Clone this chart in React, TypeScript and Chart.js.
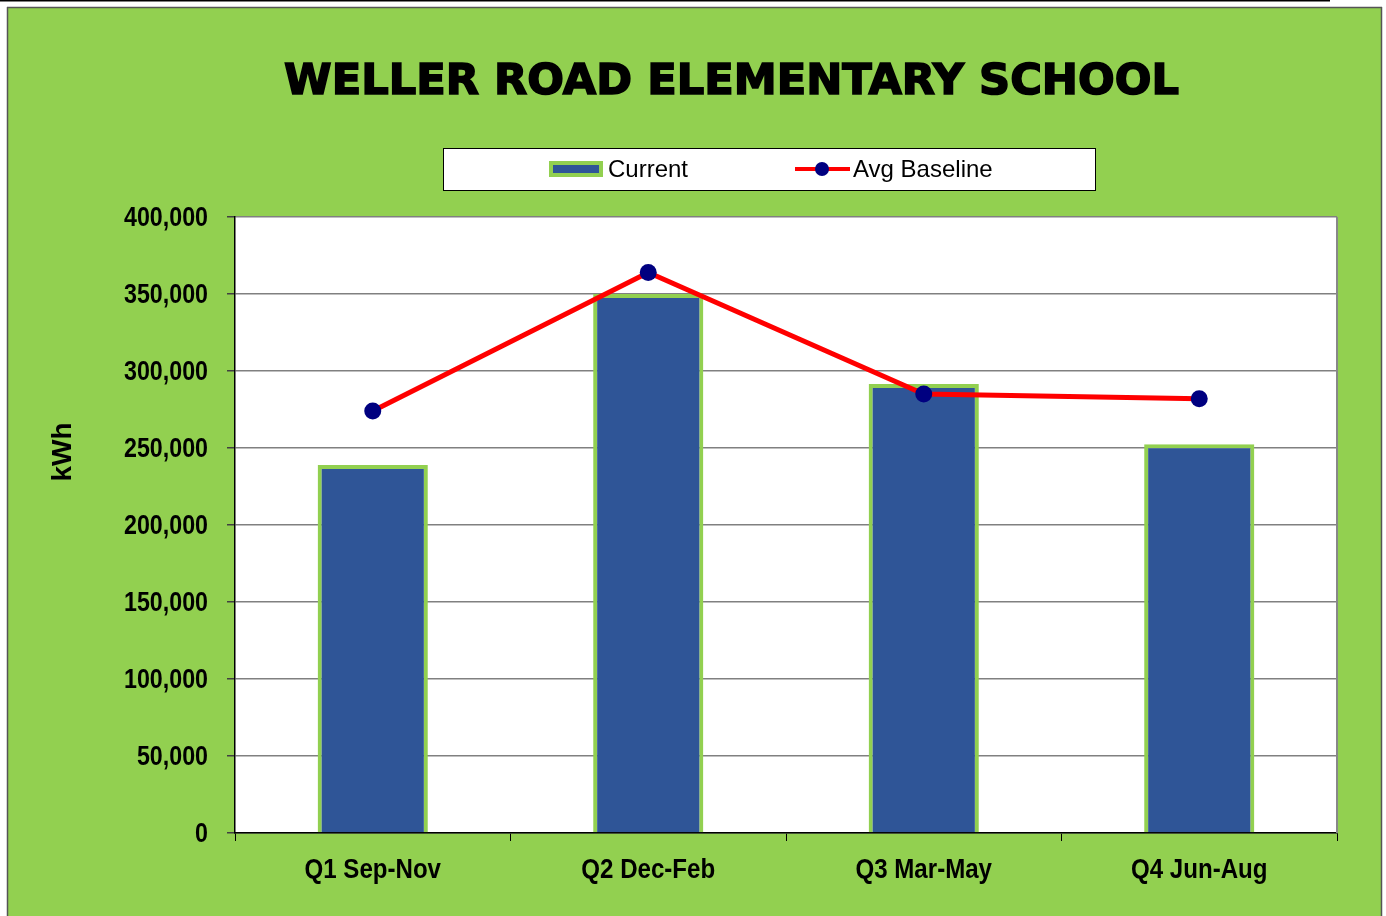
import React, { useEffect, useRef } from "react";
import { Chart, registerables } from "chart.js";

Chart.register(...registerables);

const chartTitle = "WELLER ROAD ELEMENTARY SCHOOL";
const categories = ["Q1 Sep-Nov", "Q2 Dec-Feb", "Q3 Mar-May", "Q4 Jun-Aug"];
const currentValues = [239000, 350000, 291500, 252500];
const baselineValues = [274000, 364000, 285000, 282000];
const seriesNames = ["Current", "Avg Baseline"];
const yAxisTitle = "kWh";
const yMin = 0;
const yMax = 400000;
const yStep = 50000;

const GREEN = "#92D050";
const BLUE = "#2F5597";
const RED = "#FF0000";
const NAVY = "#000080";
const BOLD_FONT = 'bold 28px "Liberation Sans", Arial, sans-serif';

function drawCondensed(ctx: any, text: string, x: number, y: number, align: string, sx: number, rot = 0) {
  ctx.save();
  ctx.translate(x, y);
  if (rot) ctx.rotate(rot);
  ctx.scale(sx, 1);
  ctx.font = BOLD_FONT;
  ctx.fillStyle = "#000000";
  ctx.textAlign = align;
  ctx.textBaseline = "middle";
  ctx.fillText(text, 0, 0);
  ctx.restore();
}

const backgroundPlugin = {
  id: "panelBackground",
  beforeDraw(chart: any) {
    const { ctx, width, height } = chart;
    ctx.save();
    ctx.fillStyle = "#FFFFFF";
    ctx.fillRect(0, 0, width, height);
    ctx.fillStyle = "#000000";
    ctx.fillRect(0, 0, 1330, 1.5);
    ctx.fillStyle = GREEN;
    ctx.fillRect(7, 7, 1375, height - 7);
    ctx.strokeStyle = "#555555";
    ctx.lineWidth = 1.5;
    ctx.beginPath();
    ctx.moveTo(7.5, 7);
    ctx.lineTo(7.5, height);
    ctx.moveTo(1381.5, 7);
    ctx.lineTo(1381.5, height);
    ctx.moveTo(7, 7.5);
    ctx.lineTo(1382, 7.5);
    ctx.stroke();
    const a = chart.chartArea;
    ctx.fillStyle = "#FFFFFF";
    ctx.fillRect(a.left, a.top, a.right - a.left, a.bottom - a.top);
    ctx.restore();
  },
  afterDatasetsDraw(chart: any) {
    const { ctx } = chart;
    const a = chart.chartArea;
    ctx.save();
    ctx.strokeStyle = "#888888";
    ctx.lineWidth = 2;
    ctx.beginPath();
    ctx.moveTo(a.right, a.top);
    ctx.lineTo(a.right, a.bottom);
    ctx.stroke();
    ctx.restore();
  },
  afterDraw(chart: any) {
    const { ctx } = chart;
    ctx.save();
    let size = 42;
    ctx.font = `bold ${size}px "DejaVu Sans", sans-serif`;
    const w = ctx.measureText(chartTitle).width;
    size = size * 895 / w;
    ctx.font = `bold ${size}px "DejaVu Sans", sans-serif`;
    ctx.fillStyle = "#000000";
    ctx.strokeStyle = "#000000";
    ctx.lineWidth = 1.6;
    ctx.textAlign = "center";
    ctx.textBaseline = "middle";
    ctx.fillText(chartTitle, 731.5, 83);
    ctx.strokeText(chartTitle, 731.5, 83);

    ctx.fillStyle = "#FFFFFF";
    ctx.fillRect(443, 148, 652, 42);
    ctx.strokeStyle = "#000000";
    ctx.lineWidth = 1;
    ctx.strokeRect(443.5, 148.5, 652, 42);

    const ds = chart.data.datasets;
    const cy = 169;
    ctx.fillStyle = ds[0].borderColor;
    ctx.fillRect(549, 161, 54, 16);
    ctx.fillStyle = ds[0].backgroundColor;
    ctx.fillRect(553, 165, 46, 8);
    ctx.font = `24px "Liberation Sans", Arial, sans-serif`;
    ctx.fillStyle = "#000000";
    ctx.textAlign = "left";
    ctx.textBaseline = "middle";
    ctx.fillText(ds[0].label, 608, cy + 1);
    ctx.strokeStyle = ds[1].borderColor;
    ctx.lineWidth = 4;
    ctx.beginPath();
    ctx.moveTo(795, cy);
    ctx.lineTo(850, cy);
    ctx.stroke();
    ctx.fillStyle = ds[1].pointBackgroundColor;
    ctx.beginPath();
    ctx.arc(822, cy, 7, 0, Math.PI * 2);
    ctx.fill();
    ctx.fillStyle = "#000000";
    ctx.fillText(ds[1].label, 853, cy + 1);
    ctx.restore();

    const ys = chart.scales.y;
    ys.ticks.forEach((t: any, i: number) => {
      const py = ys.getPixelForTick(i);
      drawCondensed(ctx, Number(t.value).toLocaleString("en-US"), 208, py + 1, "right", 0.83);
    });
    const xs = chart.scales.x;
    chart.data.labels.forEach((lab: string, i: number) => {
      const px = xs.getPixelForTick(i);
      drawCondensed(ctx, lab, px, 870, "center", 0.86);
    });
    drawCondensed(ctx, yAxisTitle, 63, 452, "center", 1, -Math.PI / 2);
  },
};

export default function App() {
  const ref = useRef<HTMLCanvasElement>(null);
  useEffect(() => {
    if (!ref.current) return;
    const chart = new Chart(ref.current, {
      type: "bar",
      data: {
        labels: categories,
        datasets: [
          {
            type: "bar",
            label: seriesNames[0],
            data: currentValues,
            backgroundColor: BLUE,
            borderColor: GREEN,
            borderWidth: 4,
            barPercentage: 0.4,
            categoryPercentage: 1,
            order: 2,
          } as any,
          {
            type: "line",
            label: seriesNames[1],
            data: baselineValues,
            borderColor: RED,
            borderWidth: 5,
            pointRadius: 8.5,
            pointBackgroundColor: NAVY,
            pointBorderColor: NAVY,
            pointBorderWidth: 0,
            tension: 0,
            order: 1,
          } as any,
        ],
      },
      options: {
        responsive: false,
        animation: false,
        devicePixelRatio: 1,
        layout: { padding: { top: 217, right: 49, left: 0, bottom: 0 } },
        plugins: {
          legend: { display: false },
          title: { display: false },
          tooltip: { enabled: false },
        },
        scales: {
          x: {
            afterFit: (s: any) => { s.height = 83; },
            grid: {
              offset: true,
              drawOnChartArea: false,
              drawTicks: true,
              tickLength: 8,
              tickColor: "#000000",
            },
            border: { color: "#000000", width: 1.5 },
            ticks: { display: false, autoSkip: false },
          },
          y: {
            min: yMin,
            max: yMax,
            afterFit: (s: any) => { s.width = 235; },
            grid: {
              color: "#808080",
              lineWidth: 1.5,
              drawTicks: true,
              tickLength: 8,
              tickColor: "#404040",
            },
            border: { color: "#000000", width: 1.5 },
            ticks: { display: false, stepSize: yStep },
          },
        },
      },
      plugins: [backgroundPlugin],
    } as any);
    return () => chart.destroy();
  }, []);
  return (
    <div style={{ position: "absolute", left: 0, top: 0, width: 1386, height: 916 }}>
      <canvas ref={ref} width={1386} height={916} style={{ display: "block" }} />
    </div>
  );
}
